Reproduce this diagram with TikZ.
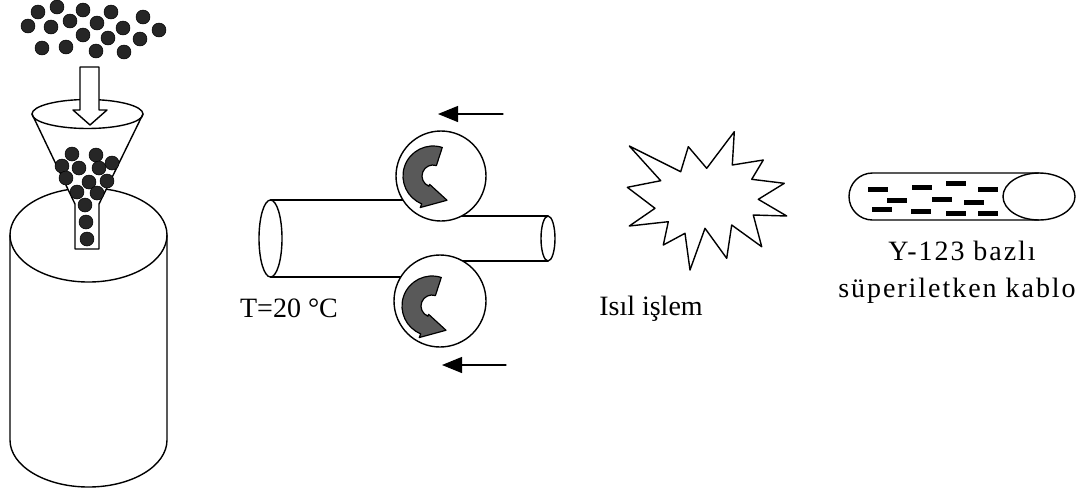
\documentclass[tikz,border=0pt]{standalone}
\usepackage{fontspec}
\setmainfont{Liberation Serif}
\newfontfamily\widefont{Liberation Serif}[LetterSpace=7]
\usetikzlibrary{arrows.meta}

\begin{document}
\begin{tikzpicture}[x=1pt,y=-1pt,line cap=round,line join=round,line width=1.4pt,
    grain/.style={fill=black!85,draw=black,line width=0.5pt},
    twist/.style={fill=black!65,draw=black,line width=1.2pt},
    feed/.style={-{Triangle[length=20pt,width=16pt]},line width=1.2pt},
    roll/.style={circle,draw,fill=white,minimum size=90pt,inner sep=0pt,line width=1.4pt},
    txt/.style={font=\fontsize{28}{32}\selectfont,anchor=base}]
  \useasboundingbox (0,0) rectangle (1092,491);

  % powder falling in
  \foreach \x/\y in {38/12,57/7,83/10,111/12,143/17,159/30,28/26,51/27,70/21,97/23,123/28,83/35,108/38,140/39,42/48,66/47,96/51,124/52}
    \draw[grain] (\x,\y) circle (7);

  % container
  \draw (10,235) -- (10,440) arc (180:0:78.5 and 47) -- (167,235);
  \draw (88.5,235) ellipse (78.5 and 47);

  % funnel
  \fill[white] (32,114) -- (75,204) -- (75,249) -- (99,249) -- (99,204) -- (143,114) arc (0:180:55.5 and 14.5);
  \draw (32,114) -- (75,204) -- (75,249) -- (99,249) -- (99,204) -- (143,114);
  \draw (87.5,114) ellipse (55.5 and 14.5);
  \foreach \x/\y in {72/154,96/155,112/163,62/166,79/168,99/168,66/178,89/182,107/181,77/192,97/193,85/205,86/222,87/239}
    \draw[grain] (\x,\y) circle (7);

  % hollow arrow
  \filldraw[fill=white] (80,67) -- (99,67) -- (99,110) -- (107,110) -- (90,125) -- (73,110) -- (80,110) -- cycle;

  % wire between the rolls
  \draw (270.5,238.5) ellipse (11.5 and 38.5);
  \draw (270.5,200) -- (430,200);
  \draw (270.5,277) -- (430,277);
  \draw (450,216) -- (548,216);
  \draw (450,261) -- (548,261);
  \draw (548,238.5) ellipse (7 and 22.5);

  % rolls
  \node[roll] (upper) at (441,176) {};
  \node[roll,minimum size=92pt] (lower) at (440,301) {};
  \foreach \c in {(433,176),(432,306)}
    \filldraw[twist,shift={\c}] (288:30) arc (288:112:30) -- (112:34) -- (60:28) -- (112:9) -- (112:11) arc (112:288:11) -- cycle;

  \coordinate (ua) at (503,114);
  \coordinate (ub) at (438,114);
  \coordinate (la) at (506,365);
  \coordinate (lb) at (442,365);
  \draw[feed] (ua) -- (ub);
  \draw[feed] (la) -- (lb);
  \node[txt] (temp) at (289,317) {T=20 °C};

  % heat treatment
  \draw (629.3,146) -- (680.7,171.7) -- (688.3,146.7) -- (706.7,168.3) -- (734.3,131.7) -- (732.3,165)
    -- (763.3,160) -- (751.7,179.3) -- (784.3,183.3) -- (758.3,199.3) -- (786.7,216) -- (753.3,215)
    -- (761.7,246.7) -- (731.7,225) -- (726.7,258.3) -- (705,228.3) -- (690,270) -- (685,233.3)
    -- (663.3,245) -- (668.3,221.7) -- (629.3,226) -- (655,208.3) -- (627.3,187.3) -- (660.7,180.7) -- cycle;
  \node[txt] (heat) at (651,315) {Isıl işlem};

  % finished cable
  \draw (1039,173) -- (872.5,173) arc (270:90:23.5) -- (1039,220);
  \draw (1039,196.5) ellipse (36 and 23.5);
  \foreach \x/\y in {868/189,912/187,946/183,978/189,887/200,932/199,964/202,872/209,911/211,946/213,978/213}
    \fill (\x,\y-2.5) rectangle ++(20,5);
  \node[txt,font=\fontsize{28}{32}\widefont] (cable) at (962,260) {Y-123 bazlı};
  \node[txt,font=\fontsize{28}{32}\widefont] (cable2) at (957,297) {süperiletken kablo};
\end{tikzpicture}
\end{document}
